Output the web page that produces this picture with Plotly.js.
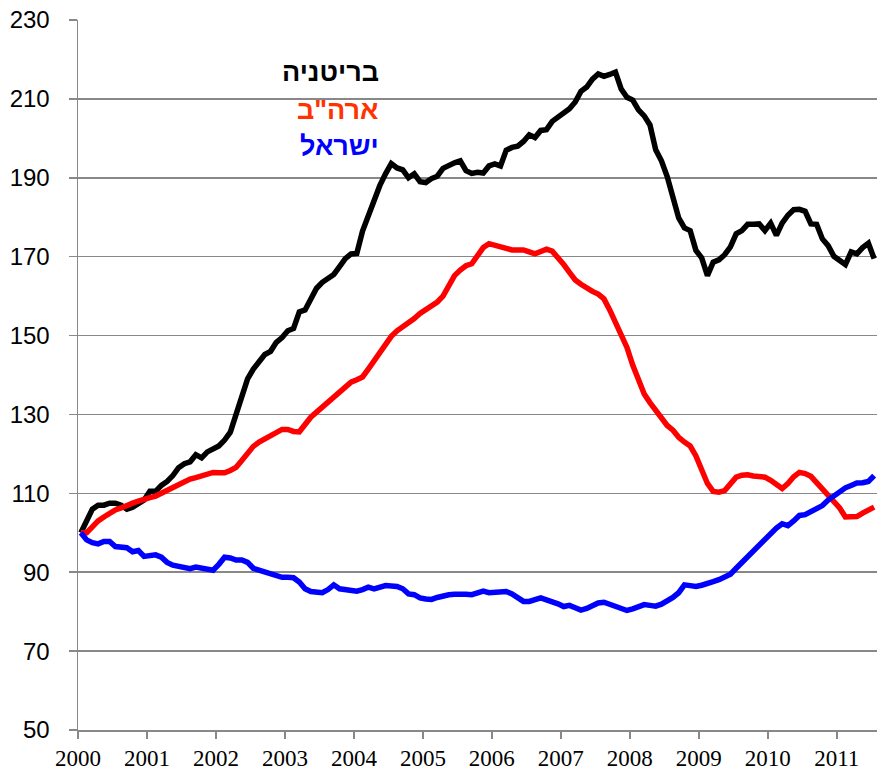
<!DOCTYPE html>
<html>
<head>
<meta charset="utf-8">
<script src="https://cdn.plot.ly/plotly-3.0.1.min.js"></script>
<style>
html,body{margin:0;padding:0;background:#fff;}
#chart{width:877px;height:773px;}
</style>
</head>
<body>
<div id="chart"></div>
<script>
// Monthly index values, Jan 2000 = 100 (Jan 2000 .. Jul 2011)
const startYear = 2000;
const yearLabels = ['2000','2001','2002','2003','2004','2005','2006','2007','2008','2009','2010','2011'];
const seriesNames = ['בריטניה', 'ארה"ב', 'ישראל'];

const uk = [
100,103,106,107,107,107.5,107.5,107,106,106.5,107.5,108.3,
110.5,110.5,112,113,114.5,116.5,117.5,118,119.8,119,120.5,121.4,
122,123.5,125.5,130,134,139,141.5,143.5,145.2,146,148.3,149.5,
151.2,151.8,156,156.5,159,162,163.5,164.5,165.5,167.5,169.5,170.7,
170.8,176.5,180.5,184,188,191,193.6,192.5,192,190,191,189,
188.8,189.8,190.4,192.4,193.2,193.8,194.3,191.8,191.1,191.4,191.2,193,
193.5,193,197,197.7,198,199.2,200.9,200.2,202,202.2,204.3,205.3,
206.2,207.5,209.2,211.9,213,215,216.3,215.7,216.2,216.8,212.5,210.4,
209.7,207.2,205.7,203.4,197.1,194.3,190.3,185,179.8,177.3,176.6,171.6,
169.7,165.2,168.6,169.2,170.5,172.5,175.8,176.6,178.2,178.2,178.3,176.6,
178.5,175.4,178.5,180.5,181.9,182,181.5,178.3,178.2,174.5,172.8,170.1,
169,168,171.2,170.7,172.3,173.4,169.5
];

const us = [
100,100,101.5,103,104,105,105.8,106.3,107,107.5,108,108.6,
108.9,109.3,110,110.7,111.5,112.4,113,113.6,114,114.4,114.9,115.3,
115.2,115.2,115.8,116.6,118.3,120.3,121.9,123,123.8,124.6,125.5,126.2,
126.2,125.7,125.6,127.5,129.3,130.6,131.8,133,134.2,135.5,137,138.2,
138.8,139.5,141.5,143.5,145.5,147.6,149.8,151.2,152.2,153,154.3,155.6,
156.5,157.3,158.5,160,162.8,165.2,166.6,167.7,168.2,170.3,172.3,173.3,
172.8,172.6,172.1,171.7,171.7,171.7,171.2,170.7,171.3,171.9,171.4,169.8,
168,166,164.1,163,162,161.2,160.5,159.3,156.5,153.5,150.4,147,
142.5,138.5,135.2,133,131,129,127.2,126,124.2,123,122,119.5,
115.5,112.5,110.5,110.3,110.7,112.2,114.1,114.6,114.7,114.4,114.2,114.1,
113.3,112.3,111.2,112.5,114.2,115.3,115,114.3,112.8,111.2,109.4,108,
106.3,104,103.9,104.1,105,105.8,106.5
];

const israel = [
100,98.2,97.5,97.2,97.8,97.8,96.5,96.4,96.2,95.2,95.5,94,
94.2,94.4,93.8,92.5,91.8,91.5,91.1,90.9,91.3,91.1,90.8,90.5,
92,93.8,93.6,93.1,93.1,92.5,91,90.5,90,89.6,89.2,88.7,
88.7,88.6,87.5,85.8,85.1,84.9,84.8,85.6,86.8,85.8,85.7,85.6,
85.2,85.6,86.2,85.8,86.3,86.6,86.5,86.4,85.8,84.5,84.3,83.5,
83.2,83.1,83.6,84.1,84.3,84.4,84.5,84.4,84.3,84.9,85.2,84.8,
84.9,85,85.1,84.5,83.5,82.6,82.6,82.9,83.5,83,82.6,82,
81.3,81.6,81,80.4,80.8,81.5,82.2,82.4,81.8,81.4,80.6,80.3,
80.7,81.3,81.8,81.6,81.4,81.9,82.6,83.6,84.8,86.8,86.6,86.4,
86.7,87,87.6,88.1,88.7,89.5,91,92.5,94,95.5,96.8,98.4,
99.8,101.2,102.3,101.8,103,104.4,104.6,105.5,106.4,106.9,108.3,109.4,
110.5,111.4,112,112.6,112.7,113,114.5
];

const nMonths = uk.length;
const months = uk.map((_, i) => startYear + (i + 0.5) / 12);
const yearTicks = yearLabels.map(Number);

const lineColors = ['#000000', '#FF0000', '#0000FF'];
const textColors = ['#000000', '#FF3300', '#0000FF'];
const allSeries = [uk, us, israel];

const traces = allSeries.map((vals, k) => ({
  x: months, y: vals, type: 'scatter', mode: 'lines',
  name: seriesNames[k],
  line: {color: lineColors[k], width: 5.5},
  hoverinfo: 'skip'
}));

const xRange = [startYear, startYear + nMonths / 12];

const layout = {
  width: 877, height: 773,
  margin: {l: 78, r: 0, t: 20, b: 43},
  paper_bgcolor: '#fff', plot_bgcolor: '#fff',
  showlegend: false,
  xaxis: {
    range: xRange, type: 'linear',
    tickvals: yearTicks, ticktext: yearLabels,
    ticks: 'outside', ticklen: 7, tickwidth: 1.5, tickcolor: '#888',
    showline: true, linecolor: '#888', linewidth: 1.5,
    showgrid: false, zeroline: false,
    tickfont: {family: '"Liberation Serif", "Times New Roman", serif', size: 23, color: '#000'},
    fixedrange: true
  },
  yaxis: {
    range: [50, 230], dtick: 20, tick0: 50,
    ticks: 'outside', ticklen: 8, tickwidth: 1.5, tickcolor: '#888',
    showline: true, linecolor: '#888', linewidth: 1.5,
    showgrid: true, gridcolor: '#888', gridwidth: 1.5,
    zeroline: false,
    ticklabelstandoff: 14,
    tickfont: {family: '"Liberation Sans", Arial, sans-serif', size: 24, color: '#000'},
    fixedrange: true
  },
  annotations: seriesNames.map((nm, k) => ({
    xref: 'paper', yref: 'paper',
    x: 0.379, y: [0.927, 0.873, 0.822][k],
    xanchor: 'right', yanchor: 'middle',
    text: '<b>' + nm + '</b>', showarrow: false,
    font: {family: 'Arial, "Liberation Sans", "DejaVu Sans", sans-serif', size: 27, color: textColors[k]}
  }))
};

Plotly.newPlot('chart', traces, layout, {staticPlot: true, displayModeBar: false});
</script>
</body>
</html>
